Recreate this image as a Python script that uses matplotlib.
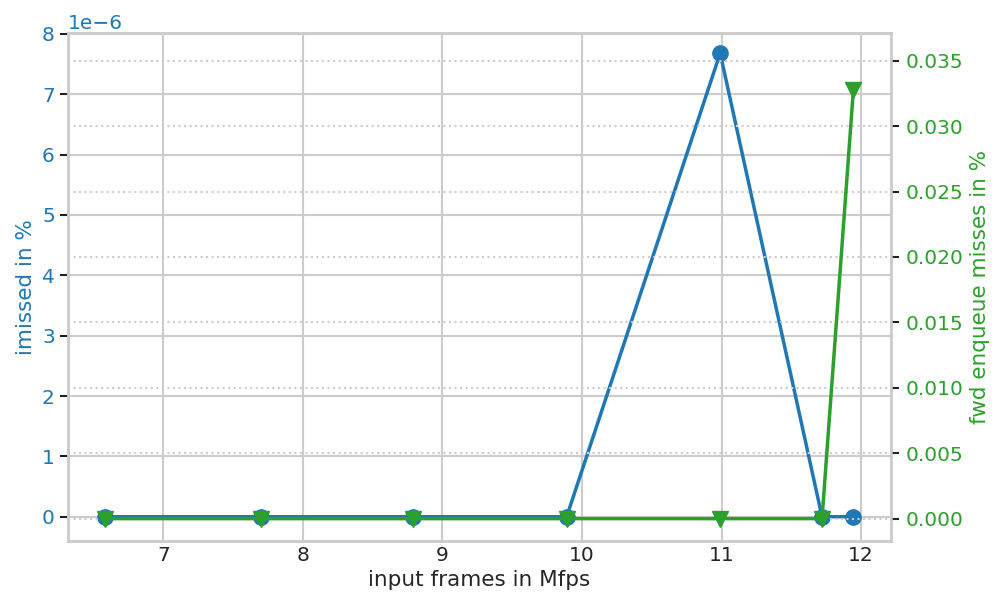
import matplotlib
matplotlib.use("Agg")
import matplotlib.pyplot as plt
import seaborn as sns

sns.set_theme(style="whitegrid")
plt.rcParams['font.family'] = ['DejaVu Sans']

# input rate (Mfps) and miss ratios
mfps = [6.584, 7.696, 8.786, 9.89, 10.99, 11.72, 11.945]
imissed = [0, 0, 0, 0, 7.68e-6, 0, 0]
fwd_miss = [0, 0, 0, 0, 0, 0, 0.0328]

blue = '#1f77b4'
green = '#2ca02c'

fig, ax = plt.subplots(figsize=(9.92, 6.05), dpi=100)
fig.subplots_adjust(left=0.0685, right=0.898, bottom=0.106, top=0.945)

ax.plot(mfps, imissed, color=blue, marker='o', markersize=11, linewidth=2.5)
ax.set_ylim(-0.4e-6, 8.01e-6)
ax.set_xlabel('input frames in Mfps', fontsize=15.5)
ax.set_ylabel('imissed in %', color=blue, fontsize=15.5)
ax.tick_params(axis='y', colors=blue, labelsize=14.5, length=6, width=1.5, left=True)
ax.tick_params(axis='y', which='both', color='#222222')
ax.tick_params(axis='x', labelsize=14.5, length=0)
ax.yaxis.get_offset_text().set_color(blue)
ax.yaxis.get_offset_text().set_fontsize(14.5)
ax.grid(True, color='#cccccc', linewidth=1.5)

ax2 = ax.twinx()
ax2.plot(mfps, fwd_miss, color=green, marker='v', markersize=11, linewidth=2.5)
ax2.set_ylabel('fwd enqueue misses in %', color=green, fontsize=15.5)
ax2.set_ylim(-0.0017, 0.0371)
ax2.tick_params(axis='y', labelcolor=green, labelsize=14.5, length=6, width=1.5,
                right=True, color='#222222', pad=5)
ax2.grid(True, linestyle=':', color='#cccccc', linewidth=1.5)
ax2.grid(False, axis='x')

for a in (ax, ax2):
    for s in a.spines.values():
        s.set_color('#cccccc')
        s.set_linewidth(1.8)

fig.savefig('out.png', dpi=100)
